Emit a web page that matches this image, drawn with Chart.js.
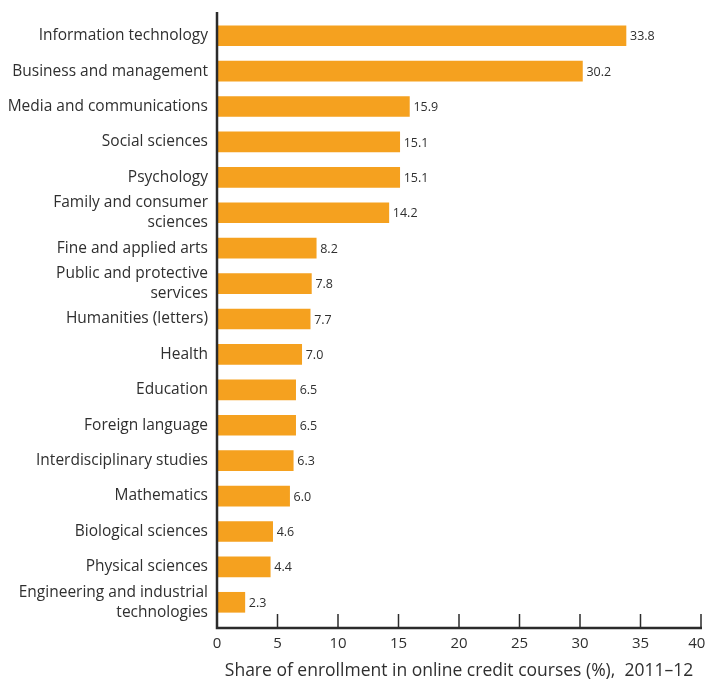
<!DOCTYPE html>
<html>
<head>
<meta charset="utf-8">
<script src="https://cdn.jsdelivr.net/npm/chart.js@4.4.1/dist/chart.umd.min.js"></script>
<style>
  html, body { margin: 0; padding: 0; background: #fff; }
  #wrap { width: 706px; height: 683px; }
</style>
</head>
<body>
<div id="wrap"><canvas id="chart" width="706" height="683"></canvas></div>
<script>
const categories = [
    'Information technology',
    'Business and management',
    'Media and communications',
    'Social sciences',
    'Psychology',
    ['Family and consumer', 'sciences'],
    'Fine and applied arts',
    ['Public and protective', 'services'],
    'Humanities (letters)',
    'Health',
    'Education',
    'Foreign language',
    'Interdisciplinary studies',
    'Mathematics',
    'Biological sciences',
    'Physical sciences',
    ['Engineering and industrial', 'technologies'],
];
const shares = [33.8, 30.2, 15.9, 15.1, 15.1, 14.2, 8.2, 7.8, 7.7, 7.0, 6.5, 6.5, 6.3, 6.0, 4.6, 4.4, 2.3];
const xTicks = [0, 5, 10, 15, 20, 25, 30, 35, 40];

const FONT = '"Open Sans", "Noto Sans", sans-serif';
const TEXT = '#2f2f2f';
const AXIS = '#2b2b2b';

// value labels at the end of each bar
const valueLabels = {
    id: 'valueLabels',
    afterDatasetsDraw(chart) {
        const ctx = chart.ctx;
        const meta = chart.getDatasetMeta(0);
        ctx.save();
        ctx.font = '12.5px ' + FONT;
        ctx.fillStyle = TEXT;
        ctx.textAlign = 'left';
        ctx.textBaseline = 'middle';
        meta.data.forEach((bar, i) => {
            ctx.fillText(shares[i].toFixed(1), bar.x + 4, bar.y + 1);
        });
        ctx.restore();
    }
};

// axis lines drawn a little past the plot area, ticks pointing up
const axisLines = {
    id: 'axisLines',
    afterDraw(chart) {
        const ctx = chart.ctx;
        const x = chart.scales.x;
        const area = chart.chartArea;
        const base = area.bottom + 8;
        ctx.save();
        ctx.strokeStyle = AXIS;
        ctx.lineWidth = 2.5;
        ctx.beginPath();
        ctx.moveTo(area.left, 12);
        ctx.lineTo(area.left, base);
        ctx.lineTo(x.getPixelForValue(40) + 1, base);
        ctx.stroke();
        ctx.lineWidth = 1.5;
        xTicks.forEach(t => {
            if (t === 0) return;
            const px = x.getPixelForValue(t);
            ctx.beginPath();
            ctx.moveTo(px, base - 14);
            ctx.lineTo(px, base);
            ctx.stroke();
        });
        ctx.restore();
    }
};

new Chart(document.getElementById('chart').getContext('2d'), {
    type: 'bar',
    data: {
        labels: categories,
        datasets: [{
            data: shares,
            backgroundColor: '#f5a11f',
            borderWidth: 0,
            barThickness: 20,
        }],
    },
    options: {
        indexAxis: 'y',
        responsive: false,
        animation: false,
        layout: { padding: { top: 18, right: 5, bottom: 0, left: 0 } },
        plugins: {
            legend: { display: false },
            tooltip: { enabled: false },
        },
        scales: {
            x: {
                min: 0,
                max: 40,
                afterBuildTicks: (scale) => { scale.ticks = xTicks.map(v => ({ value: v })); },
                afterFit: (scale) => {
                    scale.height = 63;
                    scale.paddingLeft = 0;
                    scale.paddingRight = 0;
                },
                grid: { display: false, drawTicks: false, tickLength: 0 },
                border: { display: false },
                ticks: {
                    padding: 15,
                    color: TEXT,
                    font: { family: FONT, size: 15 },
                    maxRotation: 0,
                    // last label sits a little left so it stays inside the canvas
                    callback: (v) => v === 40 ? '40\u2007' : String(v),
                },
                title: {
                    display: true,
                    text: 'Share of enrollment in online credit courses (%),  2011–12',
                    color: TEXT,
                    font: { family: FONT, size: 17.5 },
                    padding: { top: 0, bottom: 1 },
                },
            },
            y: {
                afterFit: (scale) => {
                    scale.width = 217;
                    scale.paddingTop = 0;
                    scale.paddingBottom = 0;
                },
                grid: { display: false, drawTicks: false, tickLength: 0 },
                border: { display: false },
                ticks: {
                    padding: 9,
                    color: TEXT,
                    font: { family: FONT, size: 15.5, lineHeight: 1.3 },
                    autoSkip: false,
                },
            },
        },
    },
    plugins: [valueLabels, axisLines],
});
</script>
</body>
</html>
